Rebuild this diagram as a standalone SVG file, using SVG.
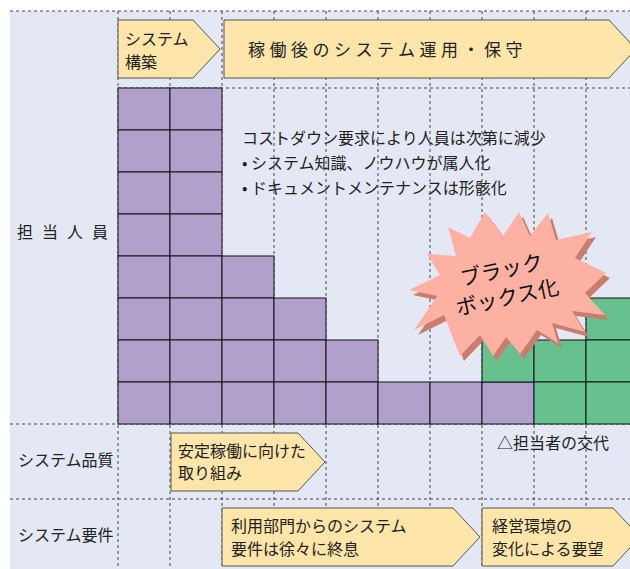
<svg xmlns="http://www.w3.org/2000/svg" width="630" height="569" viewBox="0 0 630 569">
<defs>
<style>
.t{font-family:"Noto Sans CJK JP","Noto Sans",sans-serif;font-size:16px;fill:#222}
.dl{stroke:#444;stroke-width:1;stroke-dasharray:3 3;fill:none}
.p{fill:#b1a0cc;stroke:#111;stroke-width:1}
.g{fill:#66c18f;stroke:#111;stroke-width:1}
.ch{fill:#fee5a9;stroke:#555;stroke-width:1}
</style>
</defs>
<rect x="0" y="0" width="630" height="569" fill="#ffffff"/>
<rect id="background" x="10" y="11" width="620" height="558" fill="#e4e8f4"/>
<g id="gridlines" class="dl">
<path d="M10 11H630M118 88H630M10 424H630M10 499H630"/>
<path d="M118 11V569M170 11V569M222 11V569M274 11V569M326 11V569M378 11V569M430 11V569M482 11V569M534 11V569M586 11V569"/>
</g>
<g id="staff-cells">
<rect class="p" x="118" y="88" width="52" height="42"/><rect class="p" x="118" y="130" width="52" height="42"/><rect class="p" x="118" y="172" width="52" height="42"/><rect class="p" x="118" y="214" width="52" height="42"/><rect class="p" x="118" y="256" width="52" height="42"/><rect class="p" x="118" y="298" width="52" height="42"/><rect class="p" x="118" y="340" width="52" height="42"/><rect class="p" x="118" y="382" width="52" height="42"/>
<rect class="p" x="170" y="88" width="52" height="42"/><rect class="p" x="170" y="130" width="52" height="42"/><rect class="p" x="170" y="172" width="52" height="42"/><rect class="p" x="170" y="214" width="52" height="42"/><rect class="p" x="170" y="256" width="52" height="42"/><rect class="p" x="170" y="298" width="52" height="42"/><rect class="p" x="170" y="340" width="52" height="42"/><rect class="p" x="170" y="382" width="52" height="42"/>
<rect class="p" x="222" y="256" width="52" height="42"/><rect class="p" x="222" y="298" width="52" height="42"/><rect class="p" x="222" y="340" width="52" height="42"/><rect class="p" x="222" y="382" width="52" height="42"/>
<rect class="p" x="274" y="298" width="52" height="42"/><rect class="p" x="274" y="340" width="52" height="42"/><rect class="p" x="274" y="382" width="52" height="42"/>
<rect class="p" x="326" y="340" width="52" height="42"/><rect class="p" x="326" y="382" width="52" height="42"/>
<rect class="p" x="378" y="382" width="52" height="42"/>
<rect class="p" x="430" y="382" width="52" height="42"/>
<rect class="p" x="482" y="382" width="52" height="42"/>
<rect class="g" x="482" y="340" width="52" height="42"/>
<rect class="g" x="534" y="340" width="52" height="42"/><rect class="g" x="534" y="382" width="52" height="42"/>
<rect class="g" x="586" y="298" width="52" height="42"/><rect class="g" x="586" y="340" width="52" height="42"/><rect class="g" x="586" y="382" width="52" height="42"/>
</g>
<g id="phase-build">
<polygon class="ch" points="118,20 193,20 220,49 193,78 118,78"/>
<text class="t" x="125" y="45">システム</text>
<text class="t" x="125" y="68">構築</text>
</g>
<g id="phase-operation">
<polygon class="ch" points="224,20 609,20 636,49 609,78 224,78"/>
<text class="t" x="248" y="56" style="font-size:17px;letter-spacing:4.5px">稼働後のシステム運用・保守</text>
</g>
<g id="label-staff"><text class="t" x="17" y="238" style="letter-spacing:9px">担当人員</text></g>
<g id="label-quality"><text class="t" x="18" y="466">システム品質</text></g>
<g id="label-requirements"><text class="t" x="18" y="541">システム要件</text></g>
<g id="note">
<text class="t" x="242" y="144">コストダウン要求により人員は次第に減少</text>
<text class="t" x="242" y="169">• システム知識、ノウハウが属人化</text>
<text class="t" x="242" y="194">• ドキュメントメンテナンスは形骸化</text>
</g>
<g id="blackbox">
<polygon fill="#c87d6d" transform="translate(4,5)" points="485,212 503,236 519,212 530,236 548,213 556,240 592,232 575,258 606,273 585,293 605,315 572,311 585,332 552,323 558,343 537,330 520,354 506,337 493,356 480,335 460,356 444,315 414,330 437,296 409,290 440,275 427,254 456,256 448,227 470,238"/>
<polygon fill="#fcb1a2" points="485,212 503,236 519,212 530,236 548,213 556,240 592,232 575,258 606,273 585,293 605,315 572,311 585,332 552,323 558,343 537,330 520,354 506,337 493,356 480,335 460,356 444,315 414,330 437,296 409,290 440,275 427,254 456,256 448,227 470,238"/>
<g transform="rotate(-12 506 291)">
<text class="t" x="506" y="277" text-anchor="middle" style="font-size:21px;fill:#111">ブラック</text>
<text class="t" x="506" y="305" text-anchor="middle" style="font-size:21px;fill:#111">ボックス化</text>
</g>
</g>
<g id="handover"><text class="t" x="497" y="449">△担当者の交代</text></g>
<g id="quality-effort">
<polygon class="ch" points="171,433 298,433 325,462 298,491 171,491"/>
<text class="t" x="178" y="457">安定稼働に向けた</text>
<text class="t" x="178" y="479">取り組み</text>
</g>
<g id="req-end">
<polygon class="ch" points="222,508 453,508 480,537 453,566 222,566"/>
<text class="t" x="231" y="532">利用部門からのシステム</text>
<text class="t" x="231" y="555">要件は徐々に終息</text>
</g>
<g id="req-change">
<polygon class="ch" points="482,508 613,508 640,537 613,566 482,566"/>
<text class="t" x="492" y="532">経営環境の</text>
<text class="t" x="492" y="555">変化による要望</text>
</g>
<g id="connectors"/>
</svg>
